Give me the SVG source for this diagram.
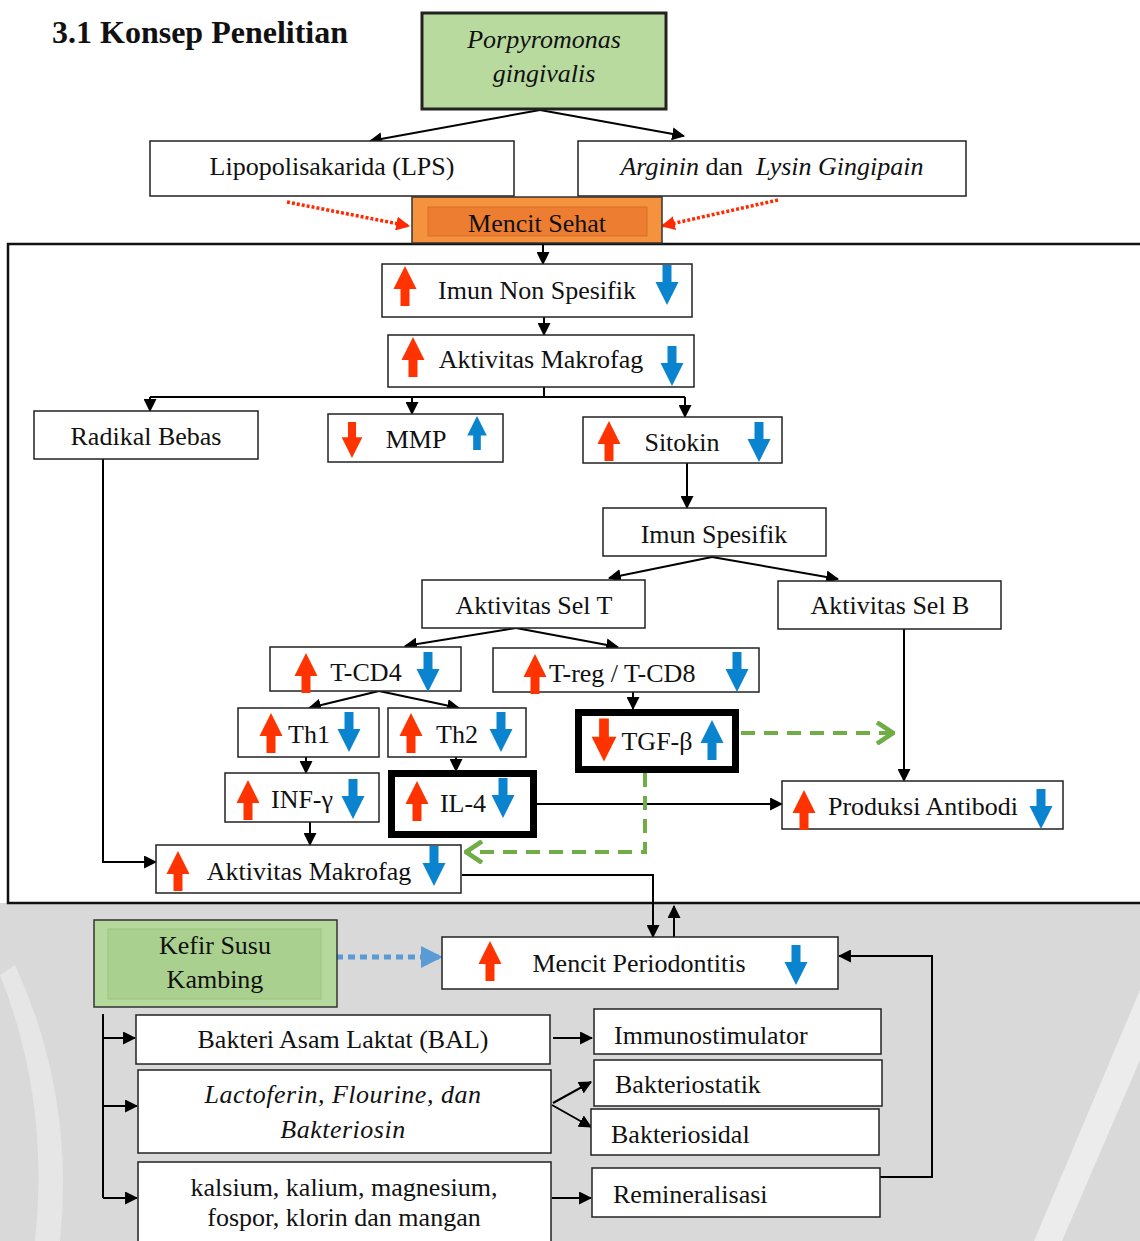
<svg xmlns="http://www.w3.org/2000/svg" xmlns:xlink="http://www.w3.org/1999/xlink" width="1140" height="1241" viewBox="0 0 1140 1241">
<style>
text{font-family:"Liberation Serif","Times New Roman",serif;font-size:26px;fill:#111}
.c{text-anchor:middle}
.it{font-style:italic}
.box{fill:#fff;stroke:#222;stroke-width:1.5}
.thick{fill:#fff;stroke:#000;stroke-width:7}
.ln{fill:none;stroke:#000;stroke-width:2}
.r{fill:#ff3300}
.b{fill:#0b84cf}
.gd{fill:none;stroke:#70ad47;stroke-width:4;stroke-dasharray:14 9}
.rd{fill:none;stroke:#ff2a00;stroke-width:3.5;stroke-dasharray:3 2}
.bd{fill:none;stroke:#5b9bd5;stroke-width:5;stroke-dasharray:7 5}
</style>
<defs>
<marker id="ah" viewBox="0 0 12 12" refX="11" refY="6" markerWidth="13" markerHeight="13" markerUnits="userSpaceOnUse" orient="auto"><path d="M0,0 L12,6 L0,12 z" fill="#000"/></marker>
<marker id="ahr" viewBox="0 0 12 12" refX="11" refY="6" markerWidth="14" markerHeight="14" markerUnits="userSpaceOnUse" orient="auto"><path d="M0,0 L12,6 L0,12 z" fill="#ff2a00"/></marker>
<marker id="ahb" viewBox="0 0 12 12" refX="11" refY="6" markerWidth="22" markerHeight="22" markerUnits="userSpaceOnUse" orient="auto"><path d="M0,0 L12,6 L0,12 z" fill="#5b9bd5"/></marker>
<marker id="ahg" viewBox="0 0 14 18" refX="13" refY="9" markerWidth="20" markerHeight="24" markerUnits="userSpaceOnUse" orient="auto"><path d="M1,1 L13,9 L1,17" fill="none" stroke="#70ad47" stroke-width="3.5"/></marker>
<path id="up" d="M0,-20 L11.5,3 L4.5,3 L4.5,20 L-4.5,20 L-4.5,3 L-11.5,3 Z"/>
<path id="dn" d="M0,20 L11.5,-3 L4.5,-3 L4.5,-20 L-4.5,-20 L-4.5,-3 L-11.5,-3 Z"/>
</defs>

<rect x="0" y="0" width="1140" height="1241" fill="#fff"/>
<rect x="0" y="903" width="1140" height="338" fill="#d9d9d9"/>
<path d="M0,975 Q50,1100 35,1241 L60,1241 Q75,1095 15,965 Z" fill="#e6e6e6"/>
<path d="M1140,990 L1034,1241 L1062,1241 L1140,1060 Z" fill="#ececec"/>
<rect x="8" y="244" width="1140" height="659" fill="#fff" stroke="#111" stroke-width="2.5"/>

<text x="52" y="43" style="font-weight:bold;font-size:32px">3.1 Konsep Penelitian</text>

<g id="connectors">
<path class="ln" d="M540,110 L370,141" marker-end="url(#ah)"/>
<path class="ln" d="M540,110 L684,136" marker-end="url(#ah)"/>
<path class="rd" d="M287,202 L409,226" marker-end="url(#ahr)"/>
<path class="rd" d="M778,200 L662,226" marker-end="url(#ahr)"/>
<path class="ln" d="M543,243 V264" marker-end="url(#ah)"/>
<path class="ln" d="M544,317 V335" marker-end="url(#ah)"/>
<path class="ln" d="M544,387 V397 M150,397 H685"/>
<path class="ln" d="M150,397 V411" marker-end="url(#ah)"/>
<path class="ln" d="M412,397 V414" marker-end="url(#ah)"/>
<path class="ln" d="M685,397 V417" marker-end="url(#ah)"/>
<path class="ln" d="M687,463 V508" marker-end="url(#ah)"/>
<path class="ln" d="M712,557 L609,578" marker-end="url(#ah)"/>
<path class="ln" d="M712,557 L838,579" marker-end="url(#ah)"/>
<path class="ln" d="M516,628 L405,646" marker-end="url(#ah)"/>
<path class="ln" d="M516,628 L618,647" marker-end="url(#ah)"/>
<path class="ln" d="M379,691 L309,708" marker-end="url(#ah)"/>
<path class="ln" d="M379,691 L459,708" marker-end="url(#ah)"/>
<path class="ln" d="M633,692 V709" marker-end="url(#ah)"/>
<path class="ln" d="M306,757 V773" marker-end="url(#ah)"/>
<path class="ln" d="M456,757 V771" marker-end="url(#ah)"/>
<path class="ln" d="M537,804 H782" marker-end="url(#ah)"/>
<path class="ln" d="M904,629 V781" marker-end="url(#ah)"/>
<path class="gd" d="M741,733 H893" marker-end="url(#ahg)"/>
<path class="gd" d="M645,773 V852 H466" marker-end="url(#ahg)"/>
<path class="ln" d="M310,822 V845" marker-end="url(#ah)"/>
<path class="ln" d="M103,459 V862 H156" marker-end="url(#ah)"/>
<path class="ln" d="M462,875 H653 V937" marker-end="url(#ah)"/>
<path class="ln" d="M674,937 V906" marker-end="url(#ah)"/>
<path class="bd" d="M336,957 H441" marker-end="url(#ahb)"/>
<path class="ln" d="M880,1177 H932 V956 H839" marker-end="url(#ah)"/>
<path class="ln" d="M103,1014 V1198"/>
<path class="ln" d="M103,1038 H135" marker-end="url(#ah)"/>
<path class="ln" d="M103,1106 H137" marker-end="url(#ah)"/>
<path class="ln" d="M103,1198 H137" marker-end="url(#ah)"/>
<path class="ln" d="M553,1038 H592" marker-end="url(#ah)"/>
<path class="ln" d="M553,1103 L591,1082" marker-end="url(#ah)"/>
<path class="ln" d="M552,1105 L591,1127" marker-end="url(#ah)"/>
<path class="ln" d="M552,1198 H591" marker-end="url(#ah)"/>
</g>

<g id="porphyromonas">
<rect x="422" y="13" width="244" height="96" fill="#b9da9f" stroke="#222" stroke-width="3"/>
<text x="544" y="48" class="c it">Porpyromonas</text>
<text x="544" y="82" class="c it">gingivalis</text>
</g>
<g id="lps">
<rect class="box" x="150" y="141" width="364" height="55"/>
<text x="332" y="175" class="c">Lipopolisakarida (LPS)</text>
</g>
<g id="gingipain">
<rect class="box" x="578" y="141" width="388" height="55"/>
<text x="772" y="175" class="c" xml:space="preserve"><tspan class="it">Arginin</tspan> dan  <tspan class="it">Lysin Gingipain</tspan></text>
</g>
<g id="mencit-sehat">
<rect x="412" y="197" width="250" height="46" fill="#f4923e" stroke="#333" stroke-width="1.5"/>
<rect x="428" y="207" width="219" height="29" fill="#ed7d31" stroke="#d5702a" stroke-width="1"/>
<text x="537" y="232" class="c">Mencit Sehat</text>
</g>

<g id="imun-non-spesifik">
<rect class="box" x="382" y="264" width="310" height="53"/>
<use href="#up" class="r" x="405" y="286"/>
<text x="537" y="299" class="c">Imun Non Spesifik</text>
<use href="#dn" class="b" x="667" y="285"/>
</g>
<g id="aktivitas-makrofag-1">
<rect class="box" x="388" y="335" width="306" height="52"/>
<use href="#up" class="r" x="413" y="357"/>
<text x="541" y="368" class="c">Aktivitas Makrofag</text>
<use href="#dn" class="b" x="672" y="366"/>
</g>
<g id="radikal-bebas">
<rect class="box" x="34" y="411" width="224" height="48"/>
<text x="146" y="445" class="c">Radikal Bebas</text>
</g>
<g id="mmp">
<rect class="box" x="328" y="414" width="175" height="48"/>
<use href="#dn" class="r" x="352" y="440" transform="translate(352 440) scale(0.9) translate(-352 -440)"/>
<text x="416" y="448" class="c">MMP</text>
<use href="#up" class="b" x="477" y="433" transform="translate(477 433) scale(0.85) translate(-477 -433)"/>
</g>
<g id="sitokin">
<rect class="box" x="583" y="417" width="199" height="46"/>
<use href="#up" class="r" x="609" y="441"/>
<text x="682" y="451" class="c">Sitokin</text>
<use href="#dn" class="b" x="759" y="442"/>
</g>
<g id="imun-spesifik">
<rect class="box" x="603" y="508" width="223" height="48"/>
<text x="714" y="543" class="c">Imun Spesifik</text>
</g>
<g id="sel-t">
<rect class="box" x="422" y="580" width="223" height="48"/>
<text x="534" y="614" class="c">Aktivitas Sel T</text>
</g>
<g id="sel-b">
<rect class="box" x="778" y="581" width="223" height="48"/>
<text x="890" y="614" class="c">Aktivitas Sel B</text>
</g>
<g id="t-cd4">
<rect class="box" x="270" y="647" width="191" height="44"/>
<text x="366" y="681" class="c">T-CD4</text>
<use href="#up" class="r" x="306" y="673"/>
<use href="#dn" class="b" x="428" y="672"/>
</g>
<g id="t-reg">
<rect class="box" x="493" y="648" width="266" height="44"/>
<text x="549" y="682">T-reg / T-CD8</text>
<use href="#up" class="r" x="535" y="674"/>
<use href="#dn" class="b" x="737" y="672"/>
</g>
<g id="th1">
<rect class="box" x="238" y="708" width="141" height="49"/>
<use href="#up" class="r" x="271" y="733"/>
<text x="309" y="743" class="c">Th1</text>
<use href="#dn" class="b" x="349" y="732"/>
</g>
<g id="th2">
<rect class="box" x="388" y="708" width="138" height="49"/>
<use href="#up" class="r" x="411" y="733"/>
<text x="457" y="743" class="c">Th2</text>
<use href="#dn" class="b" x="501" y="732"/>
</g>
<g id="tgf-beta">
<rect class="thick" x="578.5" y="712.5" width="157" height="57"/>
<use href="#dn" class="r" x="604" y="740" transform="translate(604 740) scale(1.08) translate(-604 -740)"/>
<text x="657" y="750" class="c">TGF-β</text>
<use href="#up" class="b" x="712" y="740"/>
</g>
<g id="inf-gamma">
<rect class="box" x="225" y="773" width="154" height="49"/>
<use href="#up" class="r" x="248" y="800"/>
<text x="302" y="808" class="c">INF-γ</text>
<use href="#dn" class="b" x="353" y="799"/>
</g>
<g id="il-4">
<rect class="thick" x="391.5" y="773.5" width="142" height="61"/>
<use href="#up" class="r" x="417" y="801"/>
<text x="463" y="812" class="c">IL-4</text>
<use href="#dn" class="b" x="503" y="798"/>
</g>
<g id="produksi-antibodi">
<rect class="box" x="782" y="781" width="281" height="48"/>
<use href="#up" class="r" x="804" y="810"/>
<text x="923" y="815" class="c">Produksi Antibodi</text>
<use href="#dn" class="b" x="1041" y="809"/>
</g>
<g id="aktivitas-makrofag-2">
<rect class="box" x="156" y="845" width="305" height="48"/>
<use href="#up" class="r" x="178" y="871"/>
<text x="309" y="880" class="c">Aktivitas Makrofag</text>
<use href="#dn" class="b" x="434" y="866"/>
</g>

<g id="kefir">
<rect x="94" y="920" width="243" height="87" fill="#b5d89c" stroke="#333" stroke-width="1.5"/>
<rect x="108" y="929" width="213" height="70" fill="#a9d08e" stroke="#9cc481" stroke-width="1"/>
<text x="215" y="954" class="c">Kefir Susu</text>
<text x="215" y="988" class="c">Kambing</text>
</g>
<g id="mencit-periodontitis">
<rect class="box" x="442" y="937" width="396" height="52"/>
<use href="#up" class="r" x="490" y="961"/>
<text x="639" y="972" class="c">Mencit Periodontitis</text>
<use href="#dn" class="b" x="796" y="965"/>
</g>
<g id="bal">
<rect class="box" x="136" y="1015" width="414" height="49"/>
<text x="343" y="1048" class="c">Bakteri Asam Laktat (BAL)</text>
</g>
<g id="lactoferin">
<rect class="box" x="138" y="1070" width="413" height="83"/>
<text x="343" y="1103" class="c it" style="letter-spacing:0.5px">Lactoferin, Flourine, dan</text>
<text x="343" y="1138" class="c it" style="letter-spacing:0.5px">Bakteriosin</text>
</g>
<g id="mineral">
<rect class="box" x="138" y="1162" width="413" height="95"/>
<text x="344" y="1196" class="c">kalsium, kalium, magnesium,</text>
<text x="344" y="1226" class="c">fospor, klorin dan mangan</text>
</g>
<g id="immunostimulator">
<rect class="box" x="594" y="1009" width="287" height="45"/>
<text x="614" y="1044">Immunostimulator</text>
</g>
<g id="bakteriostatik">
<rect class="box" x="594" y="1060" width="288" height="46"/>
<text x="615" y="1093">Bakteriostatik</text>
</g>
<g id="bakteriosidal">
<rect class="box" x="591" y="1109" width="288" height="46"/>
<text x="611" y="1143">Bakteriosidal</text>
</g>
<g id="remineralisasi">
<rect class="box" x="592" y="1168" width="288" height="49"/>
<text x="613" y="1203">Remineralisasi</text>
</g>
</svg>
